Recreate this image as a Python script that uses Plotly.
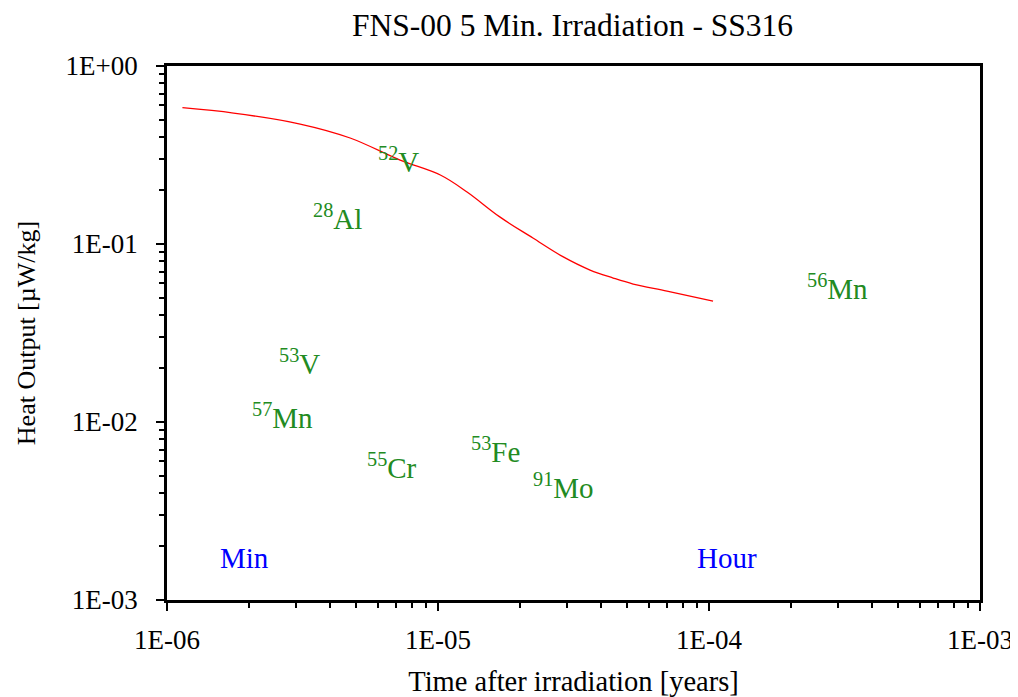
import numpy as np
import plotly.graph_objects as go

# Total heat output curve (years, µW/kg)
time_years = [1.14e-6, 1.76e-6, 3.10e-6, 4.74e-6, 7.25e-6, 1.02e-5, 1.28e-5, 1.69e-5,
              2.24e-5, 2.90e-5, 3.64e-5, 4.43e-5, 5.25e-5, 7.00e-5, 1.035e-4]
heat_output = [0.583, 0.544, 0.472, 0.394, 0.296, 0.244, 0.196, 0.142,
               0.108, 0.0846, 0.0714, 0.0644, 0.0596, 0.0544, 0.0478]

# Nuclide labels: (mass number, symbol, x [years], y [µW/kg])
nuclide_mass = ["52", "28", "56", "53", "57", "55", "53", "91"]
nuclide_sym = ["V", "Al", "Mn", "V", "Mn", "Cr", "Fe", "Mo"]
nuclide_x = [5.92e-6, 3.40e-6, 2.26e-4, 2.55e-6, 2.03e-6, 5.38e-6, 1.30e-5, 2.21e-5]
nuclide_y = [0.296, 0.142, 0.0573, 0.0217, 0.0108, 0.00566, 0.00697, 0.00437]

# Time markers
marker_text = ["Min", "Hour"]
marker_x = [1.545e-6, 8.89e-5]
marker_y = [0.00172, 0.00172]

xtick_vals = [1e-6, 1e-5, 1e-4, 1e-3]
xtick_text = ["1E-06", "1E-05", "1E-04", "1E-03"]
ytick_vals = [1e-3, 1e-2, 1e-1, 1e0]
ytick_text = ["1E-03", "1E-02", "1E-01", "1E+00"]
minor_x = [m * 10.0 ** e for e in (-6, -5, -4) for m in range(2, 10)]
minor_y = [m * 10.0 ** e for e in (-3, -2, -1) for m in range(2, 10)]

FONT = "Liberation Serif, Times New Roman, serif"

fig = go.Figure()
fig.add_trace(go.Scatter(x=time_years, y=heat_output, mode="lines",
                         line=dict(color="#ff0000", width=1.3, shape="spline"),
                         showlegend=False, hoverinfo="skip"))

annotations = []
for m, s, x, y in zip(nuclide_mass, nuclide_sym, nuclide_x, nuclide_y):
    annotations.append(dict(x=np.log10(x), y=np.log10(y), xref="x", yref="y",
                            text=f"<sup>{m}</sup>{s}", showarrow=False,
                            xanchor="left", yanchor="middle",
                            font=dict(family=FONT, size=29, color="#228b22")))
for t, x, y in zip(marker_text, marker_x, marker_y):
    annotations.append(dict(x=np.log10(x), y=np.log10(y), xref="x", yref="y",
                            text=t, showarrow=False, xanchor="left", yanchor="middle",
                            font=dict(family=FONT, size=29, color="#0000ff")))

axis_common = dict(type="log", showgrid=False, zeroline=False, automargin=False,
                   showline=True, linecolor="black", linewidth=2.5, mirror=True,
                   ticks="outside", ticklen=8, tickwidth=2, tickcolor="black",
                   tickfont=dict(family=FONT, size=27, color="black"))

fig.update_layout(
    width=1010, height=689,
    paper_bgcolor="white", plot_bgcolor="white",
    margin=dict(l=159, r=38, t=58, b=97),
    title=dict(text="FNS-00 5 Min. Irradiation - SS316", x=0.559, xanchor="center",
               y=0.975, yanchor="middle", yref="container",
               font=dict(family=FONT, size=31.5, color="black")),
    xaxis=dict(range=[-6, -3], tickvals=xtick_vals, ticktext=xtick_text,
               ticklabelstandoff=6,
               minor=dict(tickvals=minor_x, ticks="outside", ticklen=5, tickwidth=1.5,
                          tickcolor="black", showgrid=False),
               title=dict(text="Time after irradiation [years]", standoff=18,
                          font=dict(family=FONT, size=28.5, color="black")),
               **axis_common),
    yaxis=dict(range=[-3, 0], tickvals=ytick_vals, ticktext=ytick_text,
               ticklabelstandoff=13,
               minor=dict(tickvals=minor_y, ticks="outside", ticklen=5, tickwidth=1.5,
                          tickcolor="black", showgrid=False),
               title=dict(text="Heat Output [µW/kg]", standoff=23,
                          font=dict(family=FONT, size=26, color="black")),
               **axis_common),
    annotations=annotations,
)

fig.write_html("out.html")
